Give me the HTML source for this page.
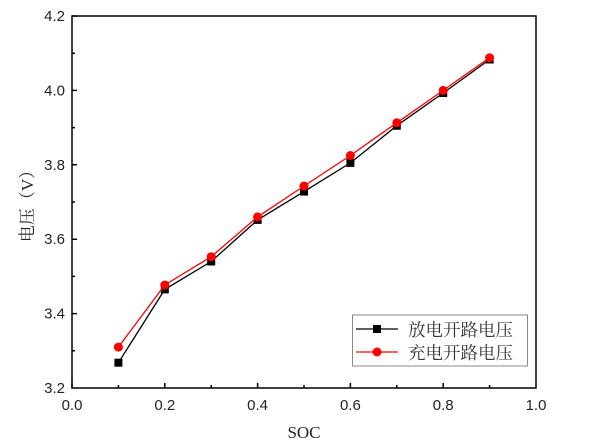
<!DOCTYPE html>
<html><head><meta charset="utf-8"><style>html,body{margin:0;padding:0;background:#fff;}svg{display:block}</style></head>
<body>
<svg width="606" height="448" viewBox="0 0 606 448" xmlns="http://www.w3.org/2000/svg">
<rect x="0" y="0" width="606" height="448" fill="#fff"/>
<g stroke="#000" stroke-width="1.5" fill="none">
<rect x="72" y="16" width="464" height="372"/>
<path d="M72 388v-5M164.8 388v-5M257.6 388v-5M350.4 388v-5M443.2 388v-5M118.4 388v-3M211.2 388v-3M304 388v-3M396.8 388v-3M489.6 388v-3"/>
<path d="M72 16h5M72 90.4h5M72 164.8h5M72 239.2h5M72 313.6h5M72 53.2h3M72 127.6h3M72 202h3M72 276.4h3M72 350.8h3"/>
</g>
<g font-family="Liberation Sans, sans-serif" font-size="15" fill="#222">
<g text-anchor="middle">
<text x="72" y="410">0.0</text><text x="164.8" y="410">0.2</text><text x="257.6" y="410">0.4</text><text x="350.4" y="410">0.6</text><text x="443.2" y="410">0.8</text><text x="536" y="410">1.0</text>
</g>
<g text-anchor="end">
<text x="65" y="21">4.2</text><text x="65" y="95.4">4.0</text><text x="65" y="169.8">3.8</text><text x="65" y="244.2">3.6</text><text x="65" y="318.6">3.4</text><text x="65" y="393">3.2</text>
</g>
</g>
<text x="304" y="438" text-anchor="middle" font-family="Liberation Serif, serif" font-size="17" fill="#222">SOC</text>
<text transform="translate(33,202) rotate(-90)" text-anchor="middle" font-family="Liberation Serif, 'Noto Serif CJK SC', serif" font-size="17" fill="#222">电压（V）</text>
<polyline fill="none" stroke="#000" stroke-width="1.3" points="118.4,362.7 164.8,289.4 211.2,261.5 257.6,219.9 304,191.6 350.4,162.9 396.8,125.7 443.2,93 489.6,59.5"/>
<g fill="#000">
<rect x="114.4" y="358.7" width="8" height="8"/><rect x="160.8" y="285.4" width="8" height="8"/><rect x="207.2" y="257.5" width="8" height="8"/><rect x="253.6" y="215.9" width="8" height="8"/><rect x="300" y="187.6" width="8" height="8"/><rect x="346.4" y="158.9" width="8" height="8"/><rect x="392.8" y="121.7" width="8" height="8"/><rect x="439.2" y="89" width="8" height="8"/><rect x="485.6" y="55.5" width="8" height="8"/>
</g>
<polyline fill="none" stroke="#f00" stroke-width="1.3" points="118.4,347.1 164.8,285 211.2,256.7 257.6,216.9 304,186 350.4,155.5 396.8,122.8 443.2,90.4 489.6,57.7"/>
<g fill="#f00">
<circle cx="118.4" cy="347.1" r="4.5"/><circle cx="164.8" cy="285" r="4.5"/><circle cx="211.2" cy="256.7" r="4.5"/><circle cx="257.6" cy="216.9" r="4.5"/><circle cx="304" cy="186" r="4.5"/><circle cx="350.4" cy="155.5" r="4.5"/><circle cx="396.8" cy="122.8" r="4.5"/><circle cx="443.2" cy="90.4" r="4.5"/><circle cx="489.6" cy="57.7" r="4.5"/>
</g>
<rect x="352.5" y="315" width="175" height="51" fill="#fff" stroke="#888" stroke-width="1"/>
<line x1="356" y1="329" x2="398" y2="329" stroke="#000" stroke-width="1.3"/>
<rect x="373" y="325" width="8" height="8" fill="#000"/>
<line x1="356" y1="352" x2="398" y2="352" stroke="#f00" stroke-width="1.3"/>
<circle cx="377" cy="352" r="4.5" fill="#f00"/>
<g font-family="'Noto Serif CJK SC', serif" font-size="17.5" fill="#333">
<text x="408" y="336">放电开路电压</text>
<text x="408" y="359">充电开路电压</text>
</g>
</svg>
</body></html>
